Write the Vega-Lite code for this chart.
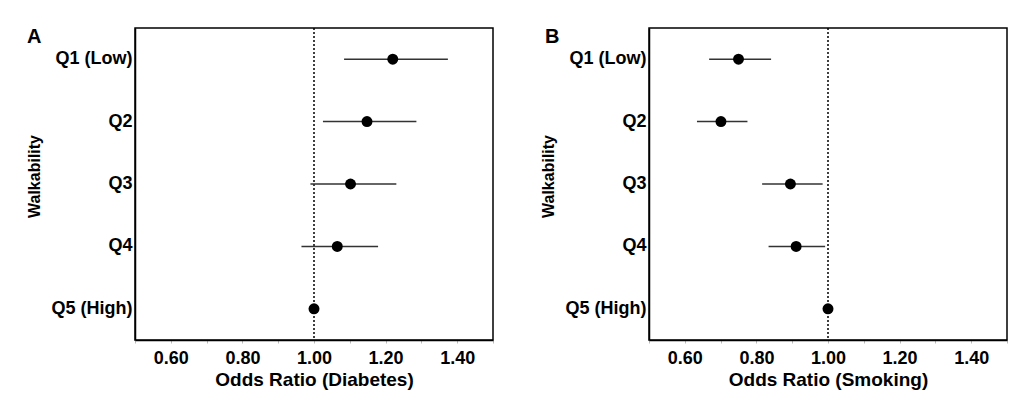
{
  "$schema": "https://vega.github.io/schema/vega-lite/v6.json",
  "padding": {"left": 25, "top": 26, "right": 4, "bottom": 10},
  "background": "white",
  "datasets": {
    "diab": [
      {"q": "Q1 (Low)", "or": 1.22, "lo": 1.084, "hi": 1.374},
      {"q": "Q2", "or": 1.148, "lo": 1.025, "hi": 1.286},
      {"q": "Q3", "or": 1.102, "lo": 0.99, "hi": 1.23},
      {"q": "Q4", "or": 1.065, "lo": 0.965, "hi": 1.179},
      {"q": "Q5 (High)", "or": 1.0, "lo": null, "hi": null}
    ],
    "smok": [
      {"q": "Q1 (Low)", "or": 0.75, "lo": 0.668, "hi": 0.841},
      {"q": "Q2", "or": 0.701, "lo": 0.634, "hi": 0.775},
      {"q": "Q3", "or": 0.895, "lo": 0.816, "hi": 0.985},
      {"q": "Q4", "or": 0.911, "lo": 0.834, "hi": 0.992},
      {"q": "Q5 (High)", "or": 1.0, "lo": null, "hi": null}
    ],
    "ref": [{"v": 1.0}]
  },
  "spacing": 44,
  "hconcat": [
    {
      "title": {"text": "A", "anchor": "start", "frame": "bounds", "offset": -36, "baseline": "alphabetic", "dx": 1, "fontSize": 20, "fontWeight": "bold"},
      "width": 358,
      "height": 312,
      "layer": [
        {
          "data": {"name": "ref"},
          "mark": {"type": "rule", "color": "black", "strokeWidth": 1.5, "strokeDash": [2, 2]},
          "encoding": {"x": {"field": "v", "type": "quantitative"}}
        },
        {
          "data": {"name": "diab"},
          "mark": {"type": "rule", "color": "#333333", "strokeWidth": 1.5},
          "encoding": {
            "y": {"field": "q", "type": "nominal"},
            "x": {"field": "lo", "type": "quantitative"},
            "x2": {"field": "hi"}
          }
        },
        {
          "data": {"name": "diab"},
          "mark": {"type": "point", "filled": true, "color": "black", "opacity": 1, "size": 120},
          "encoding": {
            "y": {"field": "q", "type": "nominal", "sort": ["Q1 (Low)", "Q2", "Q3", "Q4", "Q5 (High)"], "title": "Walkability"},
            "x": {"field": "or", "type": "quantitative", "title": "Odds Ratio (Diabetes)", "scale": {"domain": [0.5, 1.5], "nice": false, "zero": false}}
          }
        }
      ]
    },
    {
      "title": {"text": "B", "anchor": "start", "frame": "bounds", "offset": -36, "baseline": "alphabetic", "dx": 5, "fontSize": 20, "fontWeight": "bold"},
      "width": 358,
      "height": 312,
      "layer": [
        {
          "data": {"name": "ref"},
          "mark": {"type": "rule", "color": "black", "strokeWidth": 1.5, "strokeDash": [2, 2]},
          "encoding": {"x": {"field": "v", "type": "quantitative"}}
        },
        {
          "data": {"name": "smok"},
          "mark": {"type": "rule", "color": "#333333", "strokeWidth": 1.5},
          "encoding": {
            "y": {"field": "q", "type": "nominal"},
            "x": {"field": "lo", "type": "quantitative"},
            "x2": {"field": "hi"}
          }
        },
        {
          "data": {"name": "smok"},
          "mark": {"type": "point", "filled": true, "color": "black", "opacity": 1, "size": 120},
          "encoding": {
            "y": {"field": "q", "type": "nominal", "sort": ["Q1 (Low)", "Q2", "Q3", "Q4", "Q5 (High)"], "title": "Walkability"},
            "x": {"field": "or", "type": "quantitative", "title": "Odds Ratio (Smoking)", "scale": {"domain": [0.5, 1.5], "nice": false, "zero": false}}
          }
        }
      ]
    }
  ],
  "config": {
    "font": "Liberation Sans",
    "view": {"stroke": "black", "strokeWidth": 1.5},
    "title": {"color": "black", "font": "Liberation Sans"},
    "axis": {
      "grid": false,
      "domainColor": "black",
      "domainWidth": 1.5,
      "labelColor": "black",
      "labelFont": "Liberation Sans",
      "labelFontWeight": "bold",
      "titleColor": "black",
      "titleFont": "Liberation Sans",
      "titleFontWeight": "bold"
    },
    "axisY": {
      "ticks": false,
      "labelFontSize": 18,
      "labelPadding": 3,
      "titleFontSize": 16,
      "titlePadding": 9,
      "titleY": 148
    },
    "axisX": {
      "values": [0.6, 0.7, 0.8, 0.9, 1.0, 1.1, 1.2, 1.3, 1.4],
      "labelExpr": "round(datum.value * 10) % 2 == 0 ? format(datum.value, '.2f') : ''",
      "labelOverlap": false,
      "tickColor": "#bbbbbb",
      "tickSize": 3,
      "labelFontSize": 18,
      "labelPadding": 6,
      "titleFontSize": 19,
      "titlePadding": 3
    }
  }
}
